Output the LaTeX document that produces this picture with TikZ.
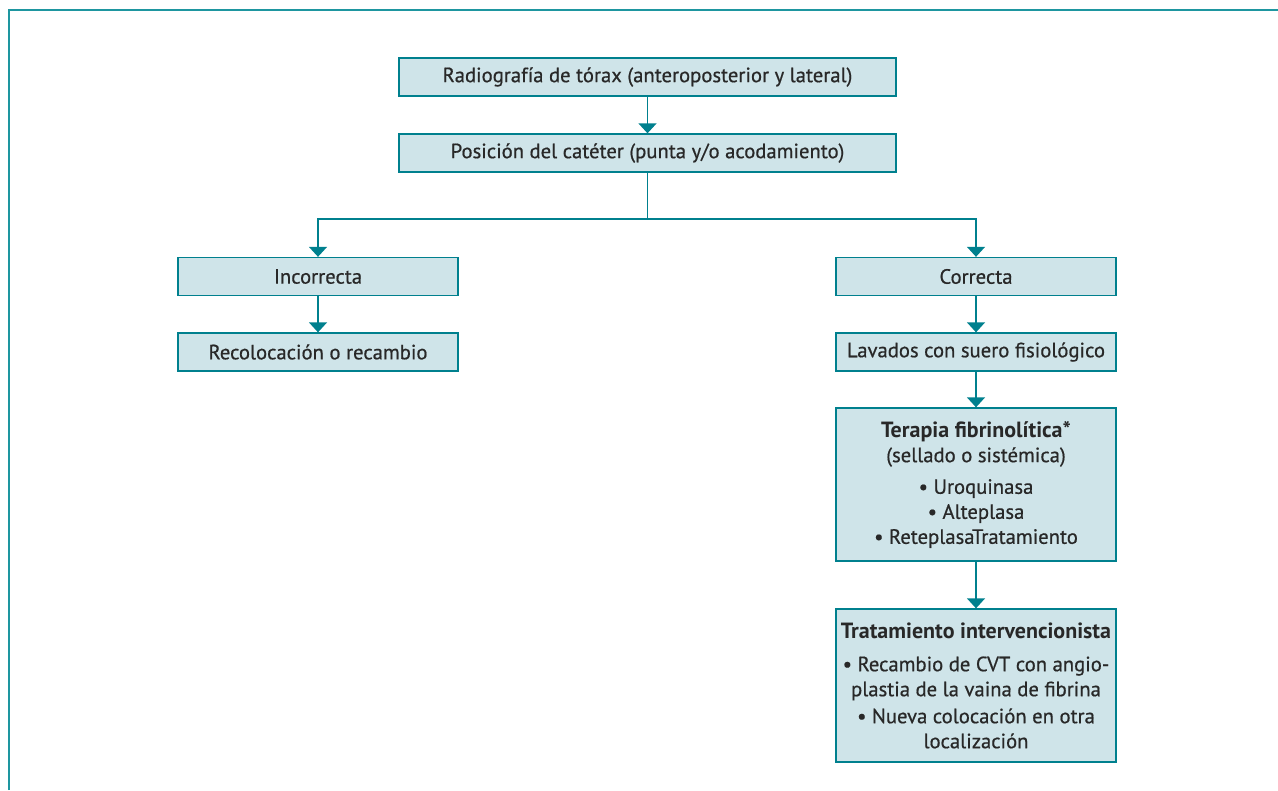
\documentclass[tikz,border=0pt]{standalone}
\usepackage{fontspec}
\setmainfont{PT Sans}[UprightFeatures={FakeBold=0.6}]
\usepackage{xcolor}
\usetikzlibrary{arrows.meta}

\definecolor{tealline}{RGB}{0,128,142}
\definecolor{tealframe}{RGB}{30,150,160}
\definecolor{boxfill}{RGB}{207,228,233}
\definecolor{boxtext}{RGB}{40,40,40}

\newcommand{\headtext}[1]{{\fontsize{16.5}{18.75}\selectfont\textbf{#1}}}

\begin{document}
\begin{tikzpicture}
      [ x=0.75pt, y=-0.75pt
      , font=\fontsize{15.5}{18.75}\selectfont
      , box/.style={draw=tealline, fill=boxfill, line width=1pt, text=boxtext,
                    minimum height=28.5pt, inner sep=0pt, align=center}
      , wide/.style={box, minimum width=372.75pt}
      , small/.style={box, minimum width=210pt}
      , tall/.style={box, minimum width=210pt, minimum height=114.75pt}
      , flow/.style={tealline, line width=1pt, -{Triangle[width=13.5pt,length=7.5pt]}}
      , link/.style={tealline, line width=1pt}
      , frame/.style={tealframe, line width=1.5pt}
      ]
    \useasboundingbox (0,0) rectangle (1278,790);
    \draw[frame] (9,790) -- (9,10) -- (1278,10);

    \node[wide] (rad) at (647.5,77) {Radiografía de tórax (anteroposterior y lateral)};
    \node[wide] (pos) at (647.5,153) {Posición del catéter (punta y/o acodamiento)};

    \node[small] (inc) at (318,276.5) {Incorrecta};
    \node[small] (rec) at (318,352) {Recolocación o recambio};

    \node[small] (cor) at (976,276.5) {Correcta};
    \node[small] (lav) at (976,352) {Lavados con suero fisiológico};
    \node[tall] (fib) at (976,484.5)
      {\headtext{Terapia fibrinolítica*}\\(sellado o sistémica)\\[5pt]
       • Uroquinasa\\• Alteplasa\\• ReteplasaTratamiento};
    \node[tall] (int) at (976,685.5)
      {\headtext{Tratamiento intervencionista}\\[6pt]
       • Recambio de CVT con angio-\\plastia de la vaina de fibrina\\[1.5pt]
       • Nueva colocación en otra\\localización};

    \coordinate (split) at (647.5,219);

    \draw[flow]
    (rad) edge (pos)
    (inc) edge (rec)
    (cor) edge (lav)
    (lav) edge (fib)
    (fib) edge (int);

    \draw[link] (pos) -- (split);
    \draw[flow] (split) -| (inc);
    \draw[flow] (split) -| (cor);
\end{tikzpicture}
\end{document}
